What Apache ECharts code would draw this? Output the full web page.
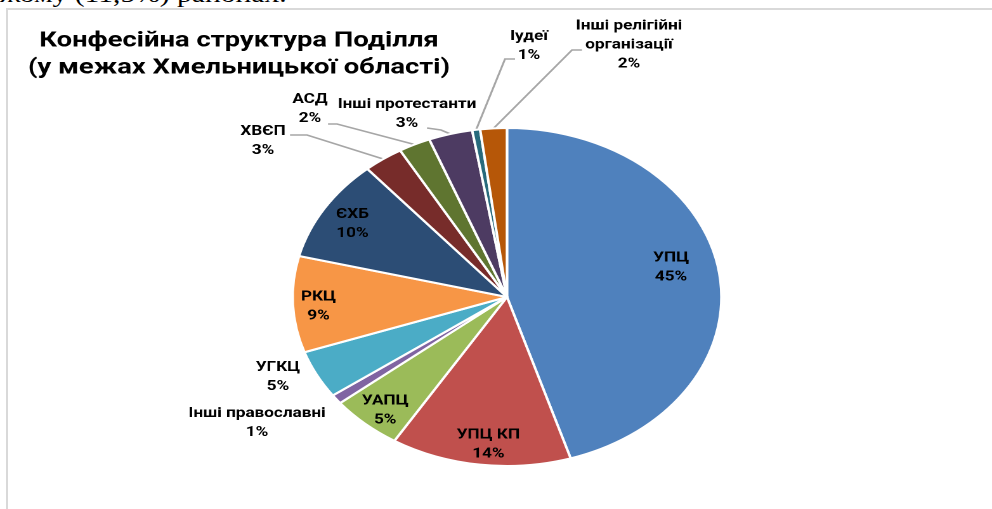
<!DOCTYPE html>
<html><head><meta charset="utf-8">
<script src="https://cdn.jsdelivr.net/npm/echarts@6/dist/echarts.min.js"></script>
<style>
html,body{margin:0;padding:0;background:#fff;overflow:hidden;width:992px;height:509px;}
#frame{position:absolute;left:6px;top:8px;width:1100px;height:700px;border-left:2px solid #d9d9d9;border-top:2px solid #d9d9d9;}
#toptext{position:absolute;left:0;top:-17.3px;font:23.3px 'Liberation Serif',serif;line-height:23.3px;white-space:nowrap;color:#000;transform:scaleX(1.2685);transform-origin:0 0;}
#chart{position:absolute;left:0;top:0;width:782px;height:509px;transform:scaleX(1.2685);transform-origin:0 0;}
</style></head><body>
<div id="frame"></div>
<div id="toptext"></div>
<div id="chart"></div>
<script>
// ---- data ----
const categories = ['УПЦ','УПЦ КП','УАПЦ','Інші православні','УГКЦ','РКЦ','ЄХБ','ХВЄП','АСД','Інші протестанти','Іудеї','Інші релігійні організації'];
const shares = [45.2, 13.6, 5.4, 0.9, 4.6, 9.2, 9.8, 3.0, 2.4, 3.3, 0.6, 2.0];
const sliceColors = ['#4F81BD','#C0504D','#9BBB59','#8064A2','#4BACC6','#F79646','#2C4D75','#772C2A','#5F7530','#4D3B62','#276A7C','#B65708'];
const titleLines = ['Конфесійна структура Поділля','(у межах Хмельницької області)'];
const topText = 'жому (11,5%) районах.';

document.getElementById('toptext').textContent = topText;

// ---- layout (picture pixels) ----
const SX = 1.2685;
const PC = [507 / SX, 297];
const R = 169;
const insideIdx = [0,1,2,5,6];
const insideRadial = {0: 1.55};
const insideShift = {0: [-6, -9], 1: [5, 0], 2: [3, 2], 5: [0, 3], 6: [6, 5]};
const outsideLayout = {
  3:  {pos:[257,423]},
  4:  {pos:[278,377]},
  7:  {pos:[263,141], line:[[307,135],[290,135]]},
  8:  {pos:[310,109], line:[[337,124],[328,124]]},
  9:  {pos:[407,114], line:[[441,130],[427,128]]},
  10: {pos:[529,46],  line:[[505,59],[515,59]]},
  11: {pos:[629,45],  line:[[572,50],[582,50]]}
};
const FONT = 'Roboto';

const data = categories.map((name, i) => {
  const inside = insideIdx.indexOf(i) >= 0;
  const ol = outsideLayout[i];
  return {
    name: name,
    value: shares[i],
    itemStyle: {color: sliceColors[i]},
    label: {position: inside ? 'inside' : 'outside'},
    labelLine: {show: !inside && !!(ol && ol.line)}
  };
});

const chart = echarts.init(document.getElementById('chart'), null, {renderer: 'canvas', devicePixelRatio: 2});
chart.setOption({
  animation: false,
  backgroundColor: 'transparent',
  graphic: [
    {type: 'text', x: 239 / SX, y: 54.5, style: {text: titleLines.join('\n'), align: 'center', verticalAlign: 'middle', fontFamily: FONT, fontWeight: 'bold', fontSize: 21.6, lineHeight: 27, fill: '#000'}}
  ],
  series: [{
    type: 'pie',
    center: PC,
    radius: R,
    startAngle: 90,
    clockwise: true,
    avoidLabelOverlap: false,
    itemStyle: {borderColor: '#fff', borderWidth: 2},
    label: {
      formatter: p => p.name.replace('релігійні ', 'релігійні\n') + '\n' + p.percent + '%',
      fontFamily: FONT, fontWeight: 'bold', fontSize: 13.5, lineHeight: 19, color: '#000'
    },
    labelLine: {lineStyle: {color: '#a6a6a6', width: 1.6}, smooth: false},
    labelLayout: function (params) {
      const i = params.dataIndex;
      const ol = outsideLayout[i];
      if (ol) {
        const res = {x: ol.pos[0] / SX, y: ol.pos[1], align: 'center', verticalAlign: 'middle'};
        if (ol.line && params.labelLinePoints) {
          res.labelLinePoints = [params.labelLinePoints[0], [ol.line[0][0] / SX, ol.line[0][1]], [ol.line[1][0] / SX, ol.line[1][1]]];
        }
        return res;
      }
      const k = insideRadial[i] || 1.7;
      const sh = insideShift[i] || [0, 0];
      const r = params.labelRect;
      const cx = r.x + r.width / 2, cy = r.y + r.height / 2;
      return {x: PC[0] + (cx - PC[0]) * k + sh[0] / SX, y: PC[1] + (cy - PC[1]) * k + sh[1], align: 'center', verticalAlign: 'middle'};
    },
    percentPrecision: 0,
    data: data
  }]
});
</script>
</body></html>
